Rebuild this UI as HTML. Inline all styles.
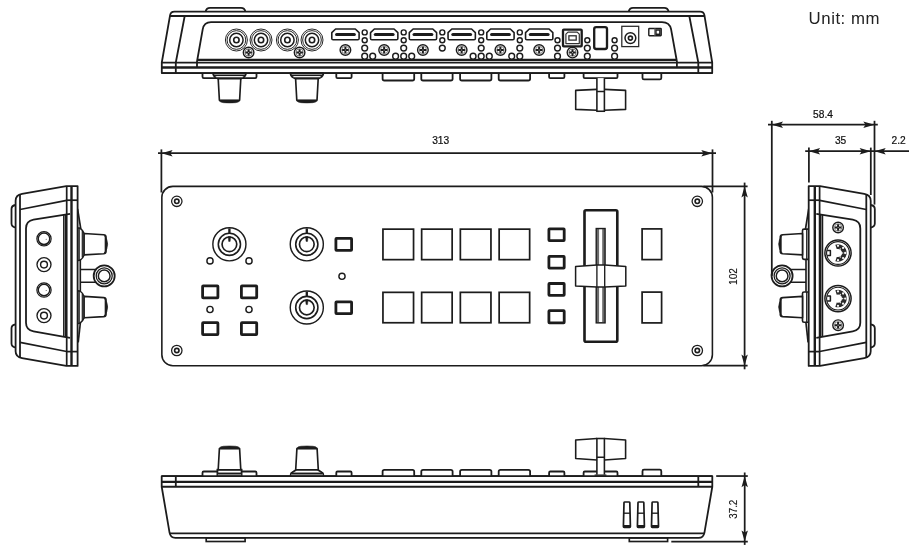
<!DOCTYPE html>
<html><head><meta charset="utf-8"><title>Dimensions</title>
<style>
html,body{margin:0;padding:0;background:#fff;}
body{width:920px;height:553px;overflow:hidden;font-family:"Liberation Sans",sans-serif;}
svg{display:block}
svg text{font-family:"Liberation Sans",sans-serif;}
.tx{opacity:0.999}
</style></head><body>
<svg width="920" height="553" viewBox="0 0 920 553">
<rect width="920" height="553" fill="#fff"/>
<g>
<path d="M77.6 227.9 L80.0 228.1 Q83.0 230.3 84.1 233.5 L84.1 254.9 Q83.0 258.1 80.0 260.3 L77.6 260.5 Z" stroke="#1c1c1c" stroke-width="1.5" fill="#fff" stroke-linejoin="round" />
<line x1="79.2" y1="228.1" x2="79.2" y2="260.3" stroke="#1c1c1c" stroke-width="1.2" />
<line x1="82.3" y1="230.9" x2="82.3" y2="257.5" stroke="#1c1c1c" stroke-width="1.2" />
<path d="M84.1 233.5 L103.6 234.7 Q105.9 234.9 106.0 236.7 L106.0 251.70000000000002 Q105.9 253.5 103.6 253.70000000000002 L84.1 254.9 Z" stroke="#1c1c1c" stroke-width="1.65" fill="#fff" stroke-linejoin="round" />
<path d="M104.4 235.4 Q110.8 244.20 104.4 253.0 L105.1 251.8 L105.1 236.6 Z" fill="#1c1c1c" stroke="#1c1c1c" stroke-width="0.8"/>
<path d="M77.6 290.79999999999995 L80.0 291.0 Q83.0 293.2 84.1 296.4 L84.1 317.8 Q83.0 321.0 80.0 323.2 L77.6 323.40000000000003 Z" stroke="#1c1c1c" stroke-width="1.5" fill="#fff" stroke-linejoin="round" />
<line x1="79.2" y1="291.0" x2="79.2" y2="323.2" stroke="#1c1c1c" stroke-width="1.2" />
<line x1="82.3" y1="293.79999999999995" x2="82.3" y2="320.40000000000003" stroke="#1c1c1c" stroke-width="1.2" />
<path d="M84.1 296.4 L103.6 297.59999999999997 Q105.9 297.79999999999995 106.0 299.59999999999997 L106.0 314.6 Q105.9 316.40000000000003 103.6 316.6 L84.1 317.8 Z" stroke="#1c1c1c" stroke-width="1.65" fill="#fff" stroke-linejoin="round" />
<path d="M104.4 298.29999999999995 Q110.8 307.10 104.4 315.90000000000003 L105.1 314.7 L105.1 299.5 Z" fill="#1c1c1c" stroke="#1c1c1c" stroke-width="0.8"/>
<path d="M77.6 208.9 L80.8 229" stroke="#1c1c1c" stroke-width="1.65" fill="none" stroke-linejoin="round" />
<path d="M80.4 322.3 L78.2 342.4" stroke="#1c1c1c" stroke-width="1.65" fill="none" stroke-linejoin="round" />
<line x1="80.3" y1="259.3" x2="80.3" y2="291.8" stroke="#1c1c1c" stroke-width="1.65" />
<path d="M80.3 269.5 L96 269.5 M80.3 282.3 L96 282.3" stroke="#1c1c1c" stroke-width="1.58" fill="none" stroke-linejoin="round" />
<circle cx="104.2" cy="275.9" r="10.5" stroke="#1c1c1c" stroke-width="1.8" fill="#fff"/>
<circle cx="104.2" cy="275.9" r="8.0" stroke="#1c1c1c" stroke-width="1.25" fill="none"/>
<circle cx="104.2" cy="275.9" r="5.85" stroke="#1c1c1c" stroke-width="1.5" fill="none"/>
<path d="M15.6 205 Q11.5 205.6 11.5 209 L11.5 223.6 Q11.5 227 15.6 227.6" stroke="#1c1c1c" stroke-width="1.8" fill="#fff" stroke-linejoin="round" />
<path d="M15.6 324.3 Q11.5 324.9 11.5 328.3 L11.5 343.5 Q11.5 346.9 15.6 347.5" stroke="#1c1c1c" stroke-width="1.8" fill="#fff" stroke-linejoin="round" />
<path d="M77.6 186.1 L66.3 186.1 L22 193.9 Q15.6 195.1 15.6 200.8 L15.6 351.2 Q15.6 356.9 22 358.1 L66.3 365.9 L77.6 365.9 Z" stroke="#1c1c1c" stroke-width="1.8" fill="#fff" stroke-linejoin="round" />
<line x1="20" y1="194.2" x2="20" y2="357.2" stroke="#1c1c1c" stroke-width="1.8" />
<line x1="66.7" y1="186.1" x2="66.7" y2="365.9" stroke="#1c1c1c" stroke-width="1.72" />
<line x1="71.5" y1="186.1" x2="71.5" y2="365.9" stroke="#1c1c1c" stroke-width="2.4" />
<line x1="66.7" y1="200.2" x2="77.6" y2="200.2" stroke="#1c1c1c" stroke-width="1.72" />
<line x1="66.7" y1="351.6" x2="77.6" y2="351.6" stroke="#1c1c1c" stroke-width="1.72" />
<line x1="20" y1="209.5" x2="66.7" y2="200.3" stroke="#1c1c1c" stroke-width="1.72" />
<line x1="20" y1="342.3" x2="66.7" y2="351.5" stroke="#1c1c1c" stroke-width="1.72" />
<path d="M70 213.8 L33.5 219.7 Q26 221 26 228.5 L26 322.8 Q26 330 33.5 331.3 L70 337.8" stroke="#1c1c1c" stroke-width="1.8" fill="none" stroke-linejoin="round" />
<line x1="63.8" y1="215" x2="63.8" y2="336.6" stroke="#1c1c1c" stroke-width="1.5" />
<line x1="65.6" y1="214.6" x2="65.6" y2="337" stroke="#1c1c1c" stroke-width="1.5" />
<circle cx="44" cy="238.8" r="7.15" stroke="#1c1c1c" stroke-width="1.2" fill="none"/>
<circle cx="44" cy="238.8" r="5.75" stroke="#1c1c1c" stroke-width="1.45" fill="none"/>
<circle cx="46.2" cy="239.20000000000002" r="0.5" fill="#444"/>
<circle cx="44" cy="290" r="7.15" stroke="#1c1c1c" stroke-width="1.2" fill="none"/>
<circle cx="44" cy="290" r="5.75" stroke="#1c1c1c" stroke-width="1.45" fill="none"/>
<circle cx="46.2" cy="290.4" r="0.5" fill="#444"/>
<circle cx="44" cy="264.6" r="7.0" stroke="#1c1c1c" stroke-width="1.35" fill="none"/>
<circle cx="44" cy="264.6" r="3.4" stroke="#1c1c1c" stroke-width="1.42" fill="none"/>
<circle cx="44" cy="315.6" r="7.0" stroke="#1c1c1c" stroke-width="1.35" fill="none"/>
<circle cx="44" cy="315.6" r="3.4" stroke="#1c1c1c" stroke-width="1.42" fill="none"/>
</g>
<path d="M161.8 73.1 L161.8 62.5 L170.1 15.2 Q170.7 11.7 174.4 11.7 L700.1 11.7 Q703.8 11.7 704.4 15.2 L712.2 62.5 L712.2 73.1 Z" stroke="#1c1c1c" stroke-width="1.8" fill="#fff" stroke-linejoin="round" />
<path d="M205.6 11.5 Q206.4 7.8 210 7.8 L241 7.8 Q244.6 7.8 245.4 11.5" stroke="#1c1c1c" stroke-width="1.8" fill="none" stroke-linejoin="round" />
<path d="M628.7 11.5 Q629.5 7.8 633 7.8 L664.2 7.8 Q667.8 7.8 668.6 11.5" stroke="#1c1c1c" stroke-width="1.8" fill="none" stroke-linejoin="round" />
<line x1="170" y1="16" x2="704.2" y2="16" stroke="#1c1c1c" stroke-width="1.88" />
<path d="M184.7 16 L175.8 62.5 L175.8 73.1" stroke="#1c1c1c" stroke-width="1.8" fill="none" stroke-linejoin="round" />
<path d="M689.3 16 L698.3 62.5 L698.3 73.1" stroke="#1c1c1c" stroke-width="1.8" fill="none" stroke-linejoin="round" />
<path d="M197 67 L197 61.5 L202.7 29.3 Q204 22.1 211 22.1 L662 22.1 Q669.6 22.1 671.1 29.3 L676.9 61.5 L676.9 67" stroke="#1c1c1c" stroke-width="1.8" fill="none" stroke-linejoin="round" />
<line x1="197.3" y1="59.9" x2="676.6" y2="59.9" stroke="#1c1c1c" stroke-width="2.1" />
<line x1="161.8" y1="62.6" x2="712.2" y2="62.6" stroke="#1c1c1c" stroke-width="1.65" />
<line x1="161.8" y1="67.45" x2="712.2" y2="67.45" stroke="#1c1c1c" stroke-width="2.62" />
<circle cx="236.4" cy="40" r="11.0" stroke="#1c1c1c" stroke-width="0.95" fill="none"/>
<circle cx="236.4" cy="40" r="9.35" stroke="#1c1c1c" stroke-width="0.95" fill="none"/>
<circle cx="236.4" cy="40" r="6.7" stroke="#1c1c1c" stroke-width="1.5" fill="none"/>
<circle cx="236.4" cy="40" r="2.7" stroke="#1c1c1c" stroke-width="1.6" fill="none"/>
<circle cx="261" cy="40" r="11.0" stroke="#1c1c1c" stroke-width="0.95" fill="none"/>
<circle cx="261" cy="40" r="9.35" stroke="#1c1c1c" stroke-width="0.95" fill="none"/>
<circle cx="261" cy="40" r="6.7" stroke="#1c1c1c" stroke-width="1.5" fill="none"/>
<circle cx="261" cy="40" r="2.7" stroke="#1c1c1c" stroke-width="1.6" fill="none"/>
<circle cx="287.4" cy="40" r="11.0" stroke="#1c1c1c" stroke-width="0.95" fill="none"/>
<circle cx="287.4" cy="40" r="9.35" stroke="#1c1c1c" stroke-width="0.95" fill="none"/>
<circle cx="287.4" cy="40" r="6.7" stroke="#1c1c1c" stroke-width="1.5" fill="none"/>
<circle cx="287.4" cy="40" r="2.7" stroke="#1c1c1c" stroke-width="1.6" fill="none"/>
<circle cx="312" cy="40" r="11.0" stroke="#1c1c1c" stroke-width="0.95" fill="none"/>
<circle cx="312" cy="40" r="9.35" stroke="#1c1c1c" stroke-width="0.95" fill="none"/>
<circle cx="312" cy="40" r="6.7" stroke="#1c1c1c" stroke-width="1.5" fill="none"/>
<circle cx="312" cy="40" r="2.7" stroke="#1c1c1c" stroke-width="1.6" fill="none"/>
<circle cx="248.6" cy="52.5" r="5.3" stroke="#1c1c1c" stroke-width="1.4" fill="#fff"/>
<circle cx="248.6" cy="52.5" r="3.7" stroke="#555" stroke-width="0.7" fill="none"/>
<path d="M245.29999999999998 52.5 L251.9 52.5 M248.6 49.2 L248.6 55.8" stroke="#1c1c1c" stroke-width="2.0" fill="none"/>
<circle cx="248.6" cy="52.5" r="0.6" fill="#bbb"/>
<circle cx="299.6" cy="52.5" r="5.3" stroke="#1c1c1c" stroke-width="1.4" fill="#fff"/>
<circle cx="299.6" cy="52.5" r="3.7" stroke="#555" stroke-width="0.7" fill="none"/>
<path d="M296.3 52.5 L302.90000000000003 52.5 M299.6 49.2 L299.6 55.8" stroke="#1c1c1c" stroke-width="2.0" fill="none"/>
<circle cx="299.6" cy="52.5" r="0.6" fill="#bbb"/>
<path d="M331.8 32.6 L335.6 29.0 L355.3 29.0 L359.1 32.6 L359.1 38.4 Q359.1 39.7 357.8 39.7 L333.1 39.7 Q331.8 39.7 331.8 38.4 Z" stroke="#1c1c1c" stroke-width="1.58" fill="none" stroke-linejoin="round" />
<line x1="336.6" y1="34.5" x2="354.3" y2="34.5" stroke="#1c1c1c" stroke-width="3.15" stroke-linecap="round"/>
<circle cx="345.40000000000003" cy="50" r="5.3" stroke="#1c1c1c" stroke-width="1.4" fill="#fff"/>
<circle cx="345.40000000000003" cy="50" r="3.7" stroke="#555" stroke-width="0.7" fill="none"/>
<path d="M342.1 50 L348.70000000000005 50 M345.40000000000003 46.7 L345.40000000000003 53.3" stroke="#1c1c1c" stroke-width="2.0" fill="none"/>
<circle cx="345.40000000000003" cy="50" r="0.6" fill="#bbb"/>
<path d="M370.55 32.6 L374.35 29.0 L394.05 29.0 L397.85 32.6 L397.85 38.4 Q397.85 39.7 396.55 39.7 L371.85 39.7 Q370.55 39.7 370.55 38.4 Z" stroke="#1c1c1c" stroke-width="1.58" fill="none" stroke-linejoin="round" />
<line x1="375.35" y1="34.5" x2="393.05" y2="34.5" stroke="#1c1c1c" stroke-width="3.15" stroke-linecap="round"/>
<circle cx="384.15000000000003" cy="50" r="5.3" stroke="#1c1c1c" stroke-width="1.4" fill="#fff"/>
<circle cx="384.15000000000003" cy="50" r="3.7" stroke="#555" stroke-width="0.7" fill="none"/>
<path d="M380.85 50 L387.45000000000005 50 M384.15000000000003 46.7 L384.15000000000003 53.3" stroke="#1c1c1c" stroke-width="2.0" fill="none"/>
<circle cx="384.15000000000003" cy="50" r="0.6" fill="#bbb"/>
<path d="M409.3 32.6 L413.1 29.0 L432.8 29.0 L436.6 32.6 L436.6 38.4 Q436.6 39.7 435.3 39.7 L410.6 39.7 Q409.3 39.7 409.3 38.4 Z" stroke="#1c1c1c" stroke-width="1.58" fill="none" stroke-linejoin="round" />
<line x1="414.1" y1="34.5" x2="431.8" y2="34.5" stroke="#1c1c1c" stroke-width="3.15" stroke-linecap="round"/>
<circle cx="422.90000000000003" cy="50" r="5.3" stroke="#1c1c1c" stroke-width="1.4" fill="#fff"/>
<circle cx="422.90000000000003" cy="50" r="3.7" stroke="#555" stroke-width="0.7" fill="none"/>
<path d="M419.6 50 L426.20000000000005 50 M422.90000000000003 46.7 L422.90000000000003 53.3" stroke="#1c1c1c" stroke-width="2.0" fill="none"/>
<circle cx="422.90000000000003" cy="50" r="0.6" fill="#bbb"/>
<path d="M448.05 32.6 L451.85 29.0 L471.55 29.0 L475.35 32.6 L475.35 38.4 Q475.35 39.7 474.05 39.7 L449.35 39.7 Q448.05 39.7 448.05 38.4 Z" stroke="#1c1c1c" stroke-width="1.58" fill="none" stroke-linejoin="round" />
<line x1="452.85" y1="34.5" x2="470.55" y2="34.5" stroke="#1c1c1c" stroke-width="3.15" stroke-linecap="round"/>
<circle cx="461.65000000000003" cy="50" r="5.3" stroke="#1c1c1c" stroke-width="1.4" fill="#fff"/>
<circle cx="461.65000000000003" cy="50" r="3.7" stroke="#555" stroke-width="0.7" fill="none"/>
<path d="M458.35 50 L464.95000000000005 50 M461.65000000000003 46.7 L461.65000000000003 53.3" stroke="#1c1c1c" stroke-width="2.0" fill="none"/>
<circle cx="461.65000000000003" cy="50" r="0.6" fill="#bbb"/>
<path d="M486.8 32.6 L490.6 29.0 L510.3 29.0 L514.1 32.6 L514.1 38.4 Q514.1 39.7 512.8000000000001 39.7 L488.1 39.7 Q486.8 39.7 486.8 38.4 Z" stroke="#1c1c1c" stroke-width="1.58" fill="none" stroke-linejoin="round" />
<line x1="491.6" y1="34.5" x2="509.3" y2="34.5" stroke="#1c1c1c" stroke-width="3.15" stroke-linecap="round"/>
<circle cx="500.40000000000003" cy="50" r="5.3" stroke="#1c1c1c" stroke-width="1.4" fill="#fff"/>
<circle cx="500.40000000000003" cy="50" r="3.7" stroke="#555" stroke-width="0.7" fill="none"/>
<path d="M497.1 50 L503.70000000000005 50 M500.40000000000003 46.7 L500.40000000000003 53.3" stroke="#1c1c1c" stroke-width="2.0" fill="none"/>
<circle cx="500.40000000000003" cy="50" r="0.6" fill="#bbb"/>
<path d="M525.55 32.6 L529.3499999999999 29.0 L549.05 29.0 L552.8499999999999 32.6 L552.8499999999999 38.4 Q552.8499999999999 39.7 551.55 39.7 L526.8499999999999 39.7 Q525.55 39.7 525.55 38.4 Z" stroke="#1c1c1c" stroke-width="1.58" fill="none" stroke-linejoin="round" />
<line x1="530.3499999999999" y1="34.5" x2="548.05" y2="34.5" stroke="#1c1c1c" stroke-width="3.15" stroke-linecap="round"/>
<circle cx="539.15" cy="50" r="5.3" stroke="#1c1c1c" stroke-width="1.4" fill="#fff"/>
<circle cx="539.15" cy="50" r="3.7" stroke="#555" stroke-width="0.7" fill="none"/>
<path d="M535.85 50 L542.4499999999999 50 M539.15 46.7 L539.15 53.3" stroke="#1c1c1c" stroke-width="2.0" fill="none"/>
<circle cx="539.15" cy="50" r="0.6" fill="#bbb"/>
<circle cx="364.7" cy="32.4" r="2.5" stroke="#1c1c1c" stroke-width="1.42" fill="#fff"/>
<circle cx="364.7" cy="40.2" r="2.5" stroke="#1c1c1c" stroke-width="1.42" fill="#fff"/>
<circle cx="364.7" cy="48.1" r="2.9" stroke="#1c1c1c" stroke-width="1.42" fill="#fff"/>
<circle cx="364.7" cy="56.2" r="2.9" stroke="#1c1c1c" stroke-width="1.42" fill="#fff"/>
<circle cx="372.7" cy="56.2" r="2.9" stroke="#1c1c1c" stroke-width="1.42" fill="#fff"/>
<circle cx="403.7" cy="32.4" r="2.5" stroke="#1c1c1c" stroke-width="1.42" fill="#fff"/>
<circle cx="403.7" cy="40.2" r="2.5" stroke="#1c1c1c" stroke-width="1.42" fill="#fff"/>
<circle cx="403.7" cy="48.1" r="2.9" stroke="#1c1c1c" stroke-width="1.42" fill="#fff"/>
<circle cx="403.7" cy="56.2" r="2.9" stroke="#1c1c1c" stroke-width="1.42" fill="#fff"/>
<circle cx="395.6" cy="56.2" r="2.9" stroke="#1c1c1c" stroke-width="1.42" fill="#fff"/>
<circle cx="411.7" cy="56.2" r="2.9" stroke="#1c1c1c" stroke-width="1.42" fill="#fff"/>
<circle cx="442.3" cy="32.4" r="2.5" stroke="#1c1c1c" stroke-width="1.42" fill="#fff"/>
<circle cx="442.3" cy="40.2" r="2.5" stroke="#1c1c1c" stroke-width="1.42" fill="#fff"/>
<circle cx="442.3" cy="48.1" r="2.9" stroke="#1c1c1c" stroke-width="1.42" fill="#fff"/>
<circle cx="481.2" cy="32.4" r="2.5" stroke="#1c1c1c" stroke-width="1.42" fill="#fff"/>
<circle cx="481.2" cy="40.2" r="2.5" stroke="#1c1c1c" stroke-width="1.42" fill="#fff"/>
<circle cx="481.2" cy="48.1" r="2.9" stroke="#1c1c1c" stroke-width="1.42" fill="#fff"/>
<circle cx="481.2" cy="56.2" r="2.9" stroke="#1c1c1c" stroke-width="1.42" fill="#fff"/>
<circle cx="473.1" cy="56.2" r="2.9" stroke="#1c1c1c" stroke-width="1.42" fill="#fff"/>
<circle cx="489.3" cy="56.2" r="2.9" stroke="#1c1c1c" stroke-width="1.42" fill="#fff"/>
<circle cx="519.8" cy="32.4" r="2.5" stroke="#1c1c1c" stroke-width="1.42" fill="#fff"/>
<circle cx="519.8" cy="40.2" r="2.5" stroke="#1c1c1c" stroke-width="1.42" fill="#fff"/>
<circle cx="519.8" cy="48.1" r="2.9" stroke="#1c1c1c" stroke-width="1.42" fill="#fff"/>
<circle cx="519.8" cy="56.2" r="2.9" stroke="#1c1c1c" stroke-width="1.42" fill="#fff"/>
<circle cx="511.7" cy="56.2" r="2.9" stroke="#1c1c1c" stroke-width="1.42" fill="#fff"/>
<circle cx="557.5" cy="40.2" r="2.5" stroke="#1c1c1c" stroke-width="1.42" fill="#fff"/>
<circle cx="557.5" cy="48.1" r="2.9" stroke="#1c1c1c" stroke-width="1.42" fill="#fff"/>
<circle cx="557.5" cy="56.2" r="2.9" stroke="#1c1c1c" stroke-width="1.42" fill="#fff"/>
<circle cx="587.3" cy="40.2" r="2.5" stroke="#1c1c1c" stroke-width="1.42" fill="#fff"/>
<circle cx="587.3" cy="48.1" r="2.9" stroke="#1c1c1c" stroke-width="1.42" fill="#fff"/>
<circle cx="587.3" cy="56.2" r="2.9" stroke="#1c1c1c" stroke-width="1.42" fill="#fff"/>
<circle cx="614.6" cy="40.2" r="2.5" stroke="#1c1c1c" stroke-width="1.42" fill="#fff"/>
<circle cx="614.6" cy="48.1" r="2.9" stroke="#1c1c1c" stroke-width="1.42" fill="#fff"/>
<circle cx="614.6" cy="56.2" r="2.9" stroke="#1c1c1c" stroke-width="1.42" fill="#fff"/>
<rect x="563.0" y="29.6" width="18.7" height="16.8" rx="0.8" stroke="#1c1c1c" stroke-width="2.33" fill="none"/>
<path d="M565.9 43.6 L565.9 34.2 L568 32.1 L577.2 32.1 L579.3 34.2 L579.3 43.6 Z" stroke="#333" stroke-width="1.2" fill="none" stroke-linejoin="round" />
<rect x="568.9" y="35.8" width="7.3" height="4.3" rx="0" stroke="#2a2a2a" stroke-width="1.27" fill="none"/>
<circle cx="572.5" cy="52.6" r="5.3" stroke="#1c1c1c" stroke-width="1.4" fill="#fff"/>
<circle cx="572.5" cy="52.6" r="3.7" stroke="#555" stroke-width="0.7" fill="none"/>
<path d="M569.2 52.6 L575.8 52.6 M572.5 49.300000000000004 L572.5 55.9" stroke="#1c1c1c" stroke-width="2.0" fill="none"/>
<circle cx="572.5" cy="52.6" r="0.6" fill="#bbb"/>
<rect x="594.2" y="27.1" width="12.8" height="21.9" rx="2" stroke="#1c1c1c" stroke-width="2.33" fill="none"/>
<rect x="621.8" y="26.3" width="16.9" height="20.3" rx="0" stroke="#2a2a2a" stroke-width="1.27" fill="none"/>
<circle cx="630.4" cy="38.1" r="5.4" stroke="#1c1c1c" stroke-width="1.5" fill="none"/>
<circle cx="630.4" cy="38.1" r="2.0" stroke="#1c1c1c" stroke-width="1.65" fill="none"/>
<rect x="648.8" y="28.5" width="12.4" height="7.2" rx="0.6" stroke="#1c1c1c" stroke-width="1.42" fill="none"/>
<rect x="655.9" y="30.0" width="4.0" height="4.3" rx="0" stroke="#1c1c1c" stroke-width="1.5" fill="none"/>
<line x1="654.9" y1="28.3" x2="654.9" y2="35.9" stroke="#555" stroke-width="1.2" />
<path d="M202.5 73.1 L202.5 76.8 Q202.5 78.1 203.8 78.1 L255.2 78.1 Q256.5 78.1 256.5 76.8 L256.5 73.1" stroke="#1c1c1c" stroke-width="1.8" fill="#fff" stroke-linejoin="round" />
<path d="M213.2 73.1 L213.2 74.3 Q213.9 77.3 218.2 78.6 L240.8 78.6 Q245.1 77.3 245.8 74.3 L245.8 73.1 Z" stroke="#1c1c1c" stroke-width="1.8" fill="#fff" stroke-linejoin="round" />
<line x1="213.3" y1="75.2" x2="245.7" y2="75.2" stroke="#1c1c1c" stroke-width="1.42" />
<line x1="215.9" y1="77.4" x2="243.1" y2="77.4" stroke="#555" stroke-width="0.9" />
<path d="M218.2 78.6 L219.4 100.3 L239.6 100.3 L240.8 78.6 Z" stroke="#1c1c1c" stroke-width="1.65" fill="#fff" stroke-linejoin="round" />
<path d="M219.7 101.2 Q219.9 100.3 221.0 100.3 L238.0 100.3 Q239.1 100.3 239.3 101.2 Q238.7 102.2 235.5 102.65 Q229.5 103.15 223.5 102.65 Q220.3 102.2 219.7 101.2 Z" fill="#1c1c1c" stroke="#1c1c1c" stroke-width="0.6"/>
<path d="M290.59999999999997 73.1 L290.59999999999997 74.3 Q291.29999999999995 77.3 295.59999999999997 78.6 L318.2 78.6 Q322.5 77.3 323.2 74.3 L323.2 73.1 Z" stroke="#1c1c1c" stroke-width="1.8" fill="#fff" stroke-linejoin="round" />
<line x1="290.7" y1="75.2" x2="323.09999999999997" y2="75.2" stroke="#1c1c1c" stroke-width="1.42" />
<line x1="293.29999999999995" y1="77.4" x2="320.5" y2="77.4" stroke="#555" stroke-width="0.9" />
<path d="M295.59999999999997 78.6 L296.79999999999995 100.3 L317.0 100.3 L318.2 78.6 Z" stroke="#1c1c1c" stroke-width="1.65" fill="#fff" stroke-linejoin="round" />
<path d="M297.09999999999997 101.2 Q297.29999999999995 100.3 298.4 100.3 L315.4 100.3 Q316.5 100.3 316.7 101.2 Q316.09999999999997 102.2 312.9 102.65 Q306.9 103.15 300.9 102.65 Q297.7 102.2 297.09999999999997 101.2 Z" fill="#1c1c1c" stroke="#1c1c1c" stroke-width="0.6"/>
<path d="M336.3 73.1 L336.3 76.89999999999999 Q336.3 78.1 337.5 78.1 L350.40000000000003 78.1 Q351.6 78.1 351.6 76.89999999999999 L351.6 73.1" stroke="#1c1c1c" stroke-width="1.8" fill="#fff" stroke-linejoin="round" />
<path d="M382.6 73.1 L382.6 78.7 Q382.6 80.5 384.40000000000003 80.5 L412.4 80.5 Q414.2 80.5 414.2 78.7 L414.2 73.1" stroke="#1c1c1c" stroke-width="1.8" fill="#fff" stroke-linejoin="round" />
<path d="M421.3 73.1 L421.3 78.7 Q421.3 80.5 423.1 80.5 L450.8 80.5 Q452.6 80.5 452.6 78.7 L452.6 73.1" stroke="#1c1c1c" stroke-width="1.8" fill="#fff" stroke-linejoin="round" />
<path d="M460.1 73.1 L460.1 78.7 Q460.1 80.5 461.90000000000003 80.5 L489.59999999999997 80.5 Q491.4 80.5 491.4 78.7 L491.4 73.1" stroke="#1c1c1c" stroke-width="1.8" fill="#fff" stroke-linejoin="round" />
<path d="M498.7 73.1 L498.7 78.7 Q498.7 80.5 500.5 80.5 L528.3000000000001 80.5 Q530.1 80.5 530.1 78.7 L530.1 73.1" stroke="#1c1c1c" stroke-width="1.8" fill="#fff" stroke-linejoin="round" />
<path d="M549.1 73.1 L549.1 76.89999999999999 Q549.1 78.1 550.3000000000001 78.1 L563.1999999999999 78.1 Q564.4 78.1 564.4 76.89999999999999 L564.4 73.1" stroke="#1c1c1c" stroke-width="1.8" fill="#fff" stroke-linejoin="round" />
<path d="M583.6 73.1 L583.6 76.89999999999999 Q583.6 78.1 584.8000000000001 78.1 L616.3 78.1 Q617.5 78.1 617.5 76.89999999999999 L617.5 73.1" stroke="#1c1c1c" stroke-width="1.8" fill="#fff" stroke-linejoin="round" />
<path d="M642.5 73.1 L642.5 77.9 Q642.5 79.4 644.0 79.4 L659.8 79.4 Q661.3 79.4 661.3 77.9 L661.3 73.1" stroke="#1c1c1c" stroke-width="1.8" fill="#fff" stroke-linejoin="round" />
<path d="M575.7 90.4 L596.9 89.4 L604.4 89.4 L625.6 90.4 L625.6 109.4 L604.4 110.25 L596.9 110.25 L575.7 109.4 Z" fill="#fff"/>
<rect x="596.9" y="78.1" width="7.5" height="33.15" fill="#fff"/>
<path d="M596.9 89.4 L575.7 90.4 L575.7 109.4 L596.9 110.25" stroke="#1c1c1c" stroke-width="1.58" fill="none" stroke-linejoin="round" />
<path d="M604.4 89.4 L625.6 90.4 L625.6 109.4 L604.4 110.25" stroke="#1c1c1c" stroke-width="1.58" fill="none" stroke-linejoin="round" />
<line x1="596.9" y1="78.1" x2="596.9" y2="111.25" stroke="#1c1c1c" stroke-width="1.58" />
<line x1="604.4" y1="78.1" x2="604.4" y2="111.25" stroke="#1c1c1c" stroke-width="1.58" />
<line x1="596.9" y1="91.5" x2="604.4" y2="91.5" stroke="#1c1c1c" stroke-width="1.5" />
<line x1="596.2" y1="111.25" x2="605.1" y2="111.25" stroke="#1c1c1c" stroke-width="1.58" />
<line x1="161.8" y1="73.05" x2="712.2" y2="73.05" stroke="#1c1c1c" stroke-width="1.8" />
<rect x="161.85" y="186.35" width="550.55" height="179.35" rx="11" stroke="#1c1c1c" stroke-width="1.58" fill="#fff"/>
<circle cx="176.8" cy="201.3" r="5.2" stroke="#1c1c1c" stroke-width="1.27" fill="none"/>
<circle cx="176.8" cy="201.3" r="2.2" stroke="#1c1c1c" stroke-width="1.65" fill="none"/>
<circle cx="697.3" cy="201.3" r="5.2" stroke="#1c1c1c" stroke-width="1.27" fill="none"/>
<circle cx="697.3" cy="201.3" r="2.2" stroke="#1c1c1c" stroke-width="1.65" fill="none"/>
<circle cx="176.8" cy="350.5" r="5.2" stroke="#1c1c1c" stroke-width="1.27" fill="none"/>
<circle cx="176.8" cy="350.5" r="2.2" stroke="#1c1c1c" stroke-width="1.65" fill="none"/>
<circle cx="697.3" cy="350.5" r="5.2" stroke="#1c1c1c" stroke-width="1.27" fill="none"/>
<circle cx="697.3" cy="350.5" r="2.2" stroke="#1c1c1c" stroke-width="1.65" fill="none"/>
<circle cx="229.4" cy="244.3" r="16.55" stroke="#1c1c1c" stroke-width="1.42" fill="none"/>
<circle cx="229.4" cy="244.3" r="11.1" stroke="#1c1c1c" stroke-width="1.58" fill="none"/>
<circle cx="229.4" cy="244.3" r="7.35" stroke="#1c1c1c" stroke-width="1.65" fill="none"/>
<line x1="229.4" y1="228.4" x2="229.4" y2="233.5" stroke="#1c1c1c" stroke-width="2.33" />
<path d="M228.15 236.5 L230.65 236.5 L230.15 241.4 L228.65 241.4 Z" stroke="#1c1c1c" stroke-width="0.45" fill="#1c1c1c" stroke-linejoin="round" />
<circle cx="306.8" cy="244.3" r="16.55" stroke="#1c1c1c" stroke-width="1.42" fill="none"/>
<circle cx="306.8" cy="244.3" r="11.1" stroke="#1c1c1c" stroke-width="1.58" fill="none"/>
<circle cx="306.8" cy="244.3" r="7.35" stroke="#1c1c1c" stroke-width="1.65" fill="none"/>
<line x1="306.8" y1="228.4" x2="306.8" y2="233.5" stroke="#1c1c1c" stroke-width="2.33" />
<path d="M305.55 236.5 L308.05 236.5 L307.55 241.4 L306.05 241.4 Z" stroke="#1c1c1c" stroke-width="0.45" fill="#1c1c1c" stroke-linejoin="round" />
<circle cx="306.8" cy="307.5" r="16.55" stroke="#1c1c1c" stroke-width="1.42" fill="none"/>
<circle cx="306.8" cy="307.5" r="11.1" stroke="#1c1c1c" stroke-width="1.58" fill="none"/>
<circle cx="306.8" cy="307.5" r="7.35" stroke="#1c1c1c" stroke-width="1.65" fill="none"/>
<line x1="306.8" y1="291.6" x2="306.8" y2="296.7" stroke="#1c1c1c" stroke-width="2.33" />
<path d="M305.55 299.7 L308.05 299.7 L307.55 304.6 L306.05 304.6 Z" stroke="#1c1c1c" stroke-width="0.45" fill="#1c1c1c" stroke-linejoin="round" />
<circle cx="210" cy="260.9" r="3.1" stroke="#1c1c1c" stroke-width="1.42" fill="none"/>
<circle cx="249" cy="260.9" r="3.1" stroke="#1c1c1c" stroke-width="1.42" fill="none"/>
<circle cx="342" cy="276.3" r="3.1" stroke="#1c1c1c" stroke-width="1.42" fill="none"/>
<circle cx="210" cy="309.5" r="3.1" stroke="#1c1c1c" stroke-width="1.42" fill="none"/>
<circle cx="249" cy="309.5" r="3.1" stroke="#1c1c1c" stroke-width="1.42" fill="none"/>
<rect x="335.90" y="238.40" width="15.70" height="12.00" rx="0.6" stroke="#1c1c1c" stroke-width="2.8" fill="none" stroke-linejoin="round"/>
<rect x="335.90" y="301.80" width="15.70" height="11.90" rx="0.6" stroke="#1c1c1c" stroke-width="2.8" fill="none" stroke-linejoin="round"/>
<rect x="202.60" y="285.90" width="15.30" height="12.00" rx="0.6" stroke="#1c1c1c" stroke-width="2.8" fill="none" stroke-linejoin="round"/>
<rect x="241.40" y="285.90" width="15.30" height="12.00" rx="0.6" stroke="#1c1c1c" stroke-width="2.8" fill="none" stroke-linejoin="round"/>
<rect x="202.60" y="322.60" width="15.30" height="12.00" rx="0.6" stroke="#1c1c1c" stroke-width="2.8" fill="none" stroke-linejoin="round"/>
<rect x="241.40" y="322.60" width="15.30" height="12.00" rx="0.6" stroke="#1c1c1c" stroke-width="2.8" fill="none" stroke-linejoin="round"/>
<rect x="548.90" y="228.90" width="15.30" height="11.70" rx="0.6" stroke="#1c1c1c" stroke-width="2.8" fill="none" stroke-linejoin="round"/>
<rect x="548.90" y="256.30" width="15.30" height="11.80" rx="0.6" stroke="#1c1c1c" stroke-width="2.8" fill="none" stroke-linejoin="round"/>
<rect x="548.90" y="283.50" width="15.30" height="11.90" rx="0.6" stroke="#1c1c1c" stroke-width="2.8" fill="none" stroke-linejoin="round"/>
<rect x="548.90" y="310.70" width="15.30" height="12.10" rx="0.6" stroke="#1c1c1c" stroke-width="2.8" fill="none" stroke-linejoin="round"/>
<rect x="382.95000000000005" y="229.15" width="30.6" height="30.5" rx="0" stroke="#1c1c1c" stroke-width="1.72" fill="none"/>
<rect x="421.65000000000003" y="229.15" width="30.5" height="30.5" rx="0" stroke="#1c1c1c" stroke-width="1.72" fill="none"/>
<rect x="460.35" y="229.15" width="30.6" height="30.5" rx="0" stroke="#1c1c1c" stroke-width="1.72" fill="none"/>
<rect x="499.15000000000003" y="229.15" width="30.5" height="30.5" rx="0" stroke="#1c1c1c" stroke-width="1.72" fill="none"/>
<rect x="382.95000000000005" y="292.35" width="30.6" height="30.4" rx="0" stroke="#1c1c1c" stroke-width="1.72" fill="none"/>
<rect x="421.65000000000003" y="292.35" width="30.5" height="30.4" rx="0" stroke="#1c1c1c" stroke-width="1.72" fill="none"/>
<rect x="460.35" y="292.35" width="30.6" height="30.4" rx="0" stroke="#1c1c1c" stroke-width="1.72" fill="none"/>
<rect x="499.15000000000003" y="292.35" width="30.5" height="30.4" rx="0" stroke="#1c1c1c" stroke-width="1.72" fill="none"/>
<rect x="584.5" y="210.3" width="32.8" height="131.4" rx="1.5" stroke="#1c1c1c" stroke-width="2.62" fill="none"/>
<rect x="596.2" y="228.5" width="8.9" height="94.4" rx="0" stroke="#1c1c1c" stroke-width="1.35" fill="#6a6a6a"/>
<rect x="599.1" y="229.4" width="3.1" height="92.6" fill="#fff"/>
<path d="M575.6 266.4 L596.9 265.1 L604.7 265.1 L625.8 266.4 L625.8 285.9 L604.7 287.1 L596.9 287.1 L575.6 285.9 Z" stroke="#1c1c1c" stroke-width="1.5" fill="#fff" stroke-linejoin="round" />
<line x1="596.9" y1="265.1" x2="596.9" y2="287.1" stroke="#1c1c1c" stroke-width="1.35" />
<line x1="604.7" y1="265.1" x2="604.7" y2="287.1" stroke="#1c1c1c" stroke-width="1.35" />
<rect x="642.1" y="228.9" width="19.5" height="30.7" rx="0" stroke="#1c1c1c" stroke-width="1.72" fill="none"/>
<rect x="642.1" y="292.1" width="19.5" height="30.8" rx="0" stroke="#1c1c1c" stroke-width="1.72" fill="none"/>
<path d="M161.7 476.05 L712.3 476.05 L712.3 486.75 L704.45 532.6 Q703.5 537.85 698.6 537.85 L175.4 537.85 Q170.5 537.85 169.55 532.6 L161.7 486.75 Z" stroke="#1c1c1c" stroke-width="1.8" fill="#fff" stroke-linejoin="round" />
<line x1="161.7" y1="481.9" x2="712.3" y2="481.9" stroke="#1c1c1c" stroke-width="2.17" />
<line x1="161.7" y1="486.75" x2="712.3" y2="486.75" stroke="#1c1c1c" stroke-width="1.88" />
<line x1="175.8" y1="476" x2="175.8" y2="486.75" stroke="#1c1c1c" stroke-width="1.8" />
<line x1="698.3" y1="476" x2="698.3" y2="486.75" stroke="#1c1c1c" stroke-width="1.8" />
<line x1="169.9" y1="533.35" x2="704.1" y2="533.35" stroke="#1c1c1c" stroke-width="1.8" />
<rect x="206.2" y="537.85" width="38.9" height="3.65" rx="0" stroke="#1c1c1c" stroke-width="1.65" fill="none"/>
<rect x="629.3" y="537.85" width="38.3" height="3.65" rx="0" stroke="#1c1c1c" stroke-width="1.65" fill="none"/>
<path d="M624.0 502.6 Q624.0999999999999 502 624.8 502 L629.0 502 Q629.7 502 629.8 502.6 L630.4 526.5 Q630.4 527.3 629.6 527.3 L624.1999999999999 527.3 Q623.4 527.3 623.4 526.5 Z" stroke="#1c1c1c" stroke-width="1.72" fill="none" stroke-linejoin="round" />
<line x1="623.8" y1="513.2" x2="630.0" y2="513.2" stroke="#1c1c1c" stroke-width="1.35" />
<line x1="623.8" y1="526.3" x2="630.0" y2="526.3" stroke="#1c1c1c" stroke-width="2.55" />
<path d="M638.0 502.6 Q638.0999999999999 502 638.8 502 L643.0 502 Q643.7 502 643.8 502.6 L644.4 526.5 Q644.4 527.3 643.6 527.3 L638.1999999999999 527.3 Q637.4 527.3 637.4 526.5 Z" stroke="#1c1c1c" stroke-width="1.72" fill="none" stroke-linejoin="round" />
<line x1="637.8" y1="513.2" x2="644.0" y2="513.2" stroke="#1c1c1c" stroke-width="1.35" />
<line x1="637.8" y1="526.3" x2="644.0" y2="526.3" stroke="#1c1c1c" stroke-width="2.55" />
<path d="M652.1 502.6 Q652.1999999999999 502 652.9 502 L657.1 502 Q657.8000000000001 502 657.9 502.6 L658.5 526.5 Q658.5 527.3 657.7 527.3 L652.3 527.3 Q651.5 527.3 651.5 526.5 Z" stroke="#1c1c1c" stroke-width="1.72" fill="none" stroke-linejoin="round" />
<line x1="651.9" y1="513.2" x2="658.1" y2="513.2" stroke="#1c1c1c" stroke-width="1.35" />
<line x1="651.9" y1="526.3" x2="658.1" y2="526.3" stroke="#1c1c1c" stroke-width="2.55" />
<path d="M202.5 476 L202.5 472.8 Q202.5 471.5 203.8 471.5 L255.2 471.5 Q256.5 471.5 256.5 472.8 L256.5 476" stroke="#1c1c1c" stroke-width="1.8" fill="#fff" stroke-linejoin="round" />
<rect x="217.4" y="469.7" width="24.2" height="6.3" rx="0" stroke="#1c1c1c" stroke-width="1.8" fill="#fff"/>
<rect x="217.9" y="473.4" width="23.2" height="2.4" fill="#8a8a8a"/>
<line x1="217.70000000000002" y1="473.3" x2="241.29999999999998" y2="473.3" stroke="#1c1c1c" stroke-width="1.5" />
<path d="M218.2 469.7 L219.4 448.6 L239.6 448.6 L240.8 469.7 Z" stroke="#1c1c1c" stroke-width="1.65" fill="#fff" stroke-linejoin="round" />
<path d="M219.7 447.7 Q219.9 448.6 221.0 448.6 L238.0 448.6 Q239.1 448.6 239.3 447.7 Q238.7 446.7 235.5 446.25 Q229.5 445.75 223.5 446.25 Q220.3 446.7 219.7 447.7 Z" fill="#1c1c1c" stroke="#1c1c1c" stroke-width="0.6"/>
<path d="M290.8 476 L290.8 474 Q291.0 472.8 292.0 472.5 L296.3 469.7 L317.7 469.7 L322.0 472.5 Q323.0 472.8 323.2 474 L323.2 476 Z" stroke="#1c1c1c" stroke-width="1.8" fill="#fff" stroke-linejoin="round" />
<rect x="291.3" y="473.4" width="31.4" height="2.4" fill="#8a8a8a"/>
<line x1="291.1" y1="473.3" x2="322.9" y2="473.3" stroke="#1c1c1c" stroke-width="1.5" />
<path d="M295.7 469.7 L296.9 448.6 L317.1 448.6 L318.3 469.7 Z" stroke="#1c1c1c" stroke-width="1.65" fill="#fff" stroke-linejoin="round" />
<path d="M297.2 447.7 Q297.4 448.6 298.5 448.6 L315.5 448.6 Q316.6 448.6 316.8 447.7 Q316.2 446.7 313.0 446.25 Q307.0 445.75 301.0 446.25 Q297.8 446.7 297.2 447.7 Z" fill="#1c1c1c" stroke="#1c1c1c" stroke-width="0.6"/>
<path d="M336.3 476 L336.3 472.7 Q336.3 471.5 337.5 471.5 L350.40000000000003 471.5 Q351.6 471.5 351.6 472.7 L351.6 476" stroke="#1c1c1c" stroke-width="1.8" fill="#fff" stroke-linejoin="round" />
<path d="M382.6 476 L382.6 471.6 Q382.6 469.8 384.40000000000003 469.8 L412.4 469.8 Q414.2 469.8 414.2 471.6 L414.2 476" stroke="#1c1c1c" stroke-width="1.8" fill="#fff" stroke-linejoin="round" />
<path d="M421.3 476 L421.3 471.6 Q421.3 469.8 423.1 469.8 L450.8 469.8 Q452.6 469.8 452.6 471.6 L452.6 476" stroke="#1c1c1c" stroke-width="1.8" fill="#fff" stroke-linejoin="round" />
<path d="M460.1 476 L460.1 471.6 Q460.1 469.8 461.90000000000003 469.8 L489.59999999999997 469.8 Q491.4 469.8 491.4 471.6 L491.4 476" stroke="#1c1c1c" stroke-width="1.8" fill="#fff" stroke-linejoin="round" />
<path d="M498.7 476 L498.7 471.6 Q498.7 469.8 500.5 469.8 L528.3000000000001 469.8 Q530.1 469.8 530.1 471.6 L530.1 476" stroke="#1c1c1c" stroke-width="1.8" fill="#fff" stroke-linejoin="round" />
<path d="M549.1 476 L549.1 472.7 Q549.1 471.5 550.3000000000001 471.5 L563.1999999999999 471.5 Q564.4 471.5 564.4 472.7 L564.4 476" stroke="#1c1c1c" stroke-width="1.8" fill="#fff" stroke-linejoin="round" />
<path d="M583.6 476 L583.6 472.7 Q583.6 471.5 584.8000000000001 471.5 L616.3 471.5 Q617.5 471.5 617.5 472.7 L617.5 476" stroke="#1c1c1c" stroke-width="1.8" fill="#fff" stroke-linejoin="round" />
<path d="M642.5 476 L642.5 471.2 Q642.5 469.7 644.0 469.7 L659.8 469.7 Q661.3 469.7 661.3 471.2 L661.3 476" stroke="#1c1c1c" stroke-width="1.8" fill="#fff" stroke-linejoin="round" />
<path d="M575.7 458.5 L596.9 460.0 L604.4 460.0 L625.6 458.5 L625.6 440.0 L604.4 438.5 L596.9 438.5 L575.7 440.0 Z" fill="#fff"/>
<rect x="596.9" y="438.5" width="7.5" height="36.90" fill="#fff"/>
<path d="M596.9 460.0 L575.7 458.5 L575.7 440.0 L596.9 438.5" stroke="#1c1c1c" stroke-width="1.58" fill="none" stroke-linejoin="round" />
<path d="M604.4 460.0 L625.6 458.5 L625.6 440.0 L604.4 438.5" stroke="#1c1c1c" stroke-width="1.58" fill="none" stroke-linejoin="round" />
<line x1="596.9" y1="475.4" x2="596.9" y2="438.5" stroke="#1c1c1c" stroke-width="1.58" />
<line x1="604.4" y1="475.4" x2="604.4" y2="438.5" stroke="#1c1c1c" stroke-width="1.58" />
<line x1="596.9" y1="457.25" x2="604.4" y2="457.25" stroke="#1c1c1c" stroke-width="1.5" />
<line x1="596.2" y1="438.5" x2="605.1" y2="438.5" stroke="#1c1c1c" stroke-width="1.58" />
<rect x="594.6" y="474.3" width="11.8" height="1.7" fill="#555"/>
<line x1="161.7" y1="476.05" x2="712.3" y2="476.05" stroke="#1c1c1c" stroke-width="1.8" />
<g transform="translate(886.3,0) scale(-1,1)">
<path d="M77.6 229.1 L82.3 229.1 Q83.8 229.1 83.8 230.6 L83.8 257.8 Q83.8 259.3 82.3 259.3 L77.6 259.3 Z" stroke="#1c1c1c" stroke-width="1.65" fill="#fff" stroke-linejoin="round" />
<line x1="79.6" y1="229.1" x2="79.6" y2="259.3" stroke="#1c1c1c" stroke-width="1.2" />
<path d="M83.8 233.5 L103.6 234.7 Q105.9 234.9 106.0 236.7 L106.0 251.70000000000002 Q105.9 253.5 103.6 253.70000000000002 L83.8 254.9 Z" stroke="#1c1c1c" stroke-width="1.65" fill="#fff" stroke-linejoin="round" />
<path d="M104.4 235.4 Q110.8 244.20 104.4 253.0 L105.1 251.8 L105.1 236.6 Z" fill="#1c1c1c" stroke="#1c1c1c" stroke-width="0.8"/>
<path d="M77.6 292.0 L82.3 292.0 Q83.8 292.0 83.8 293.5 L83.8 320.7 Q83.8 322.2 82.3 322.2 L77.6 322.2 Z" stroke="#1c1c1c" stroke-width="1.65" fill="#fff" stroke-linejoin="round" />
<line x1="79.6" y1="292.0" x2="79.6" y2="322.2" stroke="#1c1c1c" stroke-width="1.2" />
<path d="M83.8 296.4 L103.6 297.59999999999997 Q105.9 297.79999999999995 106.0 299.59999999999997 L106.0 314.6 Q105.9 316.40000000000003 103.6 316.6 L83.8 317.8 Z" stroke="#1c1c1c" stroke-width="1.65" fill="#fff" stroke-linejoin="round" />
<path d="M104.4 298.29999999999995 Q110.8 307.10 104.4 315.90000000000003 L105.1 314.7 L105.1 299.5 Z" fill="#1c1c1c" stroke="#1c1c1c" stroke-width="0.8"/>
<path d="M77.6 208.9 L80.8 229" stroke="#1c1c1c" stroke-width="1.65" fill="none" stroke-linejoin="round" />
<path d="M80.4 322.3 L78.2 342.4" stroke="#1c1c1c" stroke-width="1.65" fill="none" stroke-linejoin="round" />
<line x1="80.3" y1="259.3" x2="80.3" y2="291.8" stroke="#1c1c1c" stroke-width="1.65" />
<path d="M80.3 269.5 L96 269.5 M80.3 282.3 L96 282.3" stroke="#1c1c1c" stroke-width="1.58" fill="none" stroke-linejoin="round" />
<circle cx="104.2" cy="275.9" r="10.5" stroke="#1c1c1c" stroke-width="1.8" fill="#fff"/>
<circle cx="104.2" cy="275.9" r="8.0" stroke="#1c1c1c" stroke-width="1.25" fill="none"/>
<circle cx="104.2" cy="275.9" r="5.85" stroke="#1c1c1c" stroke-width="1.5" fill="none"/>
<path d="M15.6 205 Q11.5 205.6 11.5 209 L11.5 223.6 Q11.5 227 15.6 227.6" stroke="#1c1c1c" stroke-width="1.8" fill="#fff" stroke-linejoin="round" />
<path d="M15.6 324.3 Q11.5 324.9 11.5 328.3 L11.5 343.5 Q11.5 346.9 15.6 347.5" stroke="#1c1c1c" stroke-width="1.8" fill="#fff" stroke-linejoin="round" />
<path d="M77.6 186.1 L66.3 186.1 L22 193.9 Q15.6 195.1 15.6 200.8 L15.6 351.2 Q15.6 356.9 22 358.1 L66.3 365.9 L77.6 365.9 Z" stroke="#1c1c1c" stroke-width="1.8" fill="#fff" stroke-linejoin="round" />
<line x1="20" y1="194.2" x2="20" y2="357.2" stroke="#1c1c1c" stroke-width="1.8" />
<line x1="66.7" y1="186.1" x2="66.7" y2="365.9" stroke="#1c1c1c" stroke-width="1.72" />
<line x1="71.5" y1="186.1" x2="71.5" y2="365.9" stroke="#1c1c1c" stroke-width="2.4" />
<line x1="66.7" y1="200.2" x2="77.6" y2="200.2" stroke="#1c1c1c" stroke-width="1.72" />
<line x1="66.7" y1="351.6" x2="77.6" y2="351.6" stroke="#1c1c1c" stroke-width="1.72" />
<line x1="20" y1="209.5" x2="66.7" y2="200.3" stroke="#1c1c1c" stroke-width="1.72" />
<line x1="20" y1="342.3" x2="66.7" y2="351.5" stroke="#1c1c1c" stroke-width="1.72" />
<path d="M70 213.8 L33.5 219.7 Q26 221 26 228.5 L26 322.8 Q26 330 33.5 331.3 L70 337.8" stroke="#1c1c1c" stroke-width="1.8" fill="none" stroke-linejoin="round" />
<line x1="63.8" y1="215" x2="63.8" y2="336.6" stroke="#1c1c1c" stroke-width="1.5" />
<line x1="65.6" y1="214.6" x2="65.6" y2="337" stroke="#1c1c1c" stroke-width="1.5" />
</g>
<circle cx="838.1" cy="227.5" r="5.3" stroke="#1c1c1c" stroke-width="1.4" fill="#fff"/>
<circle cx="838.1" cy="227.5" r="3.7" stroke="#555" stroke-width="0.7" fill="none"/>
<path d="M834.8000000000001 227.5 L841.4 227.5 M838.1 224.2 L838.1 230.8" stroke="#1c1c1c" stroke-width="2.0" fill="none"/>
<circle cx="838.1" cy="227.5" r="0.6" fill="#bbb"/>
<circle cx="838.1" cy="325.2" r="5.3" stroke="#1c1c1c" stroke-width="1.4" fill="#fff"/>
<circle cx="838.1" cy="325.2" r="3.7" stroke="#555" stroke-width="0.7" fill="none"/>
<path d="M834.8000000000001 325.2 L841.4 325.2 M838.1 321.9 L838.1 328.5" stroke="#1c1c1c" stroke-width="2.0" fill="none"/>
<circle cx="838.1" cy="325.2" r="0.6" fill="#bbb"/>
<circle cx="838" cy="253" r="13.1" stroke="#1c1c1c" stroke-width="1.5" fill="#fff"/>
<circle cx="838" cy="253" r="11.4" stroke="#1c1c1c" stroke-width="1.12" fill="none"/>
<path d="M827.1 250.4 L830.4 250.4 L830.4 255.4 L827.1 255.4" stroke="#1c1c1c" stroke-width="1.5" fill="none" stroke-linejoin="round" />
<path d="M836.02 246.91 A6.4 6.4 0 1 1 836.02 259.09" stroke="#2a2a2a" stroke-width="4.6" fill="none"/>
<circle cx="838.00" cy="245.80" r="1.15" fill="#f4f4f4"/>
<circle cx="843.09" cy="247.91" r="1.15" fill="#f4f4f4"/>
<circle cx="845.20" cy="253.00" r="1.15" fill="#f4f4f4"/>
<circle cx="843.09" cy="258.09" r="1.15" fill="#f4f4f4"/>
<circle cx="838.00" cy="260.20" r="1.15" fill="#f4f4f4"/>
<circle cx="840.30" cy="249.02" r="0.8" fill="#ddd"/>
<circle cx="842.60" cy="253.00" r="0.8" fill="#ddd"/>
<circle cx="840.30" cy="256.98" r="0.8" fill="#ddd"/>
<circle cx="838" cy="298.6" r="13.1" stroke="#1c1c1c" stroke-width="1.5" fill="#fff"/>
<circle cx="838" cy="298.6" r="11.4" stroke="#1c1c1c" stroke-width="1.12" fill="none"/>
<path d="M827.1 296.0 L830.4 296.0 L830.4 301.0 L827.1 301.0" stroke="#1c1c1c" stroke-width="1.5" fill="none" stroke-linejoin="round" />
<path d="M836.02 292.51 A6.4 6.4 0 1 1 836.02 304.69" stroke="#2a2a2a" stroke-width="4.6" fill="none"/>
<circle cx="838.00" cy="291.40" r="1.15" fill="#f4f4f4"/>
<circle cx="843.09" cy="293.51" r="1.15" fill="#f4f4f4"/>
<circle cx="845.20" cy="298.60" r="1.15" fill="#f4f4f4"/>
<circle cx="843.09" cy="303.69" r="1.15" fill="#f4f4f4"/>
<circle cx="838.00" cy="305.80" r="1.15" fill="#f4f4f4"/>
<circle cx="840.30" cy="294.62" r="0.8" fill="#ddd"/>
<circle cx="842.60" cy="298.60" r="0.8" fill="#ddd"/>
<circle cx="840.30" cy="302.58" r="0.8" fill="#ddd"/>
<g class="tx">
<line x1="158" y1="153.2" x2="716" y2="153.2" stroke="#1c1c1c" stroke-width="1.75" />
<line x1="161.4" y1="149.4" x2="161.4" y2="192.5" stroke="#1c1c1c" stroke-width="1.75" />
<line x1="712.5" y1="149.4" x2="712.5" y2="192.5" stroke="#1c1c1c" stroke-width="1.75" />
<path d="M161.4 153.2 L172.60 150.00 L170.40 153.20 L172.60 156.40 Z" fill="#1c1c1c"/>
<path d="M712.5 153.2 L701.30 156.40 L703.50 153.20 L701.30 150.00 Z" fill="#1c1c1c"/>
<text x="440.7" y="143.7" font-size="10.2" text-anchor="middle" fill="#111" stroke="#111" stroke-width="0.22">313</text>
<line x1="703.5" y1="186.35" x2="747.6" y2="186.35" stroke="#1c1c1c" stroke-width="1.75" />
<line x1="703.5" y1="365.7" x2="747.6" y2="365.7" stroke="#1c1c1c" stroke-width="1.75" />
<line x1="744.6" y1="182.6" x2="744.6" y2="369.3" stroke="#1c1c1c" stroke-width="1.75" />
<path d="M744.6 186.35 L747.80 197.55 L744.60 195.35 L741.40 197.55 Z" fill="#1c1c1c"/>
<path d="M744.6 365.7 L741.40 354.50 L744.60 356.70 L747.80 354.50 Z" fill="#1c1c1c"/>
<text x="737.05" y="276.5" font-size="11.2" text-anchor="middle" fill="#111" stroke="#111" stroke-width="0.12" transform="rotate(-90 737.05 276.5)" textLength="16.8" lengthAdjust="spacingAndGlyphs">102</text>
<line x1="716.2" y1="476.05" x2="747.8" y2="476.05" stroke="#1c1c1c" stroke-width="1.75" />
<line x1="671.3" y1="541.6" x2="747.8" y2="541.6" stroke="#1c1c1c" stroke-width="1.75" />
<line x1="744.7" y1="472.5" x2="744.7" y2="544.9" stroke="#1c1c1c" stroke-width="1.75" />
<path d="M744.7 476.05 L747.90 487.25 L744.70 485.05 L741.50 487.25 Z" fill="#1c1c1c"/>
<path d="M744.7 541.6 L741.50 530.40 L744.70 532.60 L747.90 530.40 Z" fill="#1c1c1c"/>
<text x="737.5" y="509.2" font-size="11.2" text-anchor="middle" fill="#111" stroke="#111" stroke-width="0.12" transform="rotate(-90 737.5 509.2)" textLength="19" lengthAdjust="spacingAndGlyphs">37.2</text>
<line x1="768" y1="124.7" x2="877.8" y2="124.7" stroke="#1c1c1c" stroke-width="1.75" />
<line x1="771.8" y1="120.8" x2="771.8" y2="276" stroke="#1c1c1c" stroke-width="1.75" />
<line x1="874.5" y1="120.8" x2="874.5" y2="204.6" stroke="#1c1c1c" stroke-width="1.75" />
<path d="M771.8 124.7 L783.00 121.50 L780.80 124.70 L783.00 127.90 Z" fill="#1c1c1c"/>
<path d="M874.5 124.7 L863.30 127.90 L865.50 124.70 L863.30 121.50 Z" fill="#1c1c1c"/>
<text x="823" y="117.8" font-size="10.2" text-anchor="middle" fill="#111" stroke="#111" stroke-width="0.22">58.4</text>
<line x1="805.2" y1="151.2" x2="909" y2="151.2" stroke="#1c1c1c" stroke-width="1.75" />
<line x1="808.9" y1="147.6" x2="808.9" y2="182.6" stroke="#1c1c1c" stroke-width="1.75" />
<line x1="870.8" y1="147.6" x2="870.8" y2="195" stroke="#1c1c1c" stroke-width="1.75" />
<path d="M808.9 151.2 L820.10 148.00 L817.90 151.20 L820.10 154.40 Z" fill="#1c1c1c"/>
<path d="M870.8 151.2 L859.60 154.40 L861.80 151.20 L859.60 148.00 Z" fill="#1c1c1c"/>
<path d="M874.5 151.2 L885.70 148.00 L883.50 151.20 L885.70 154.40 Z" fill="#1c1c1c"/>
<text x="840.6" y="143.9" font-size="10.2" text-anchor="middle" fill="#111" stroke="#111" stroke-width="0.22">35</text>
<text x="898.7" y="143.9" font-size="10.2" text-anchor="middle" fill="#111" stroke="#111" stroke-width="0.22">2.2</text>
<text x="808.6" y="24.35" font-size="16.8" fill="#222" letter-spacing="0.35" textLength="71.3" lengthAdjust="spacing">Unit: mm</text></g>
</svg>
</body></html>
